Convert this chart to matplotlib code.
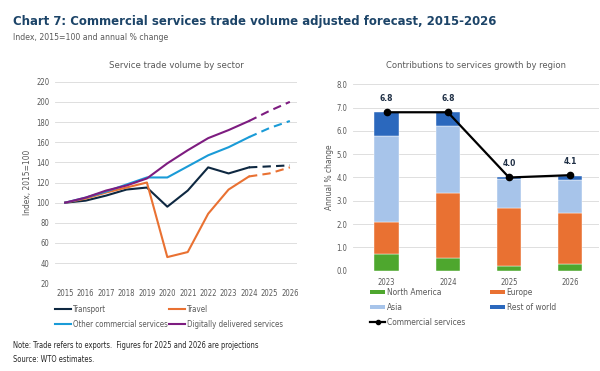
import numpy as np
import matplotlib
matplotlib.use("Agg")
import matplotlib.pyplot as plt
from matplotlib import font_manager
from matplotlib.lines import Line2D
from matplotlib.patches import Patch

# pick a narrow face if there is one, the reference uses a condensed sans
names = {f.name for f in font_manager.fontManager.ttflist}
stretches = {(f.name, f.stretch) for f in font_manager.fontManager.ttflist}
stretch = 'normal'
if 'Liberation Sans Narrow' in names:
    family = 'Liberation Sans Narrow'
elif 'DejaVu Sans Condensed' in names:
    family = 'DejaVu Sans Condensed'
elif ('DejaVu Sans', 'condensed') in stretches or ('DejaVu Sans', 'semi-condensed') in stretches:
    family = 'DejaVu Sans'
    stretch = 'condensed'
else:
    family = 'Liberation Sans'
plt.rcParams['font.family'] = [family, 'DejaVu Sans']
plt.rcParams['font.stretch'] = stretch

# Left panel: index, 2015=100
years = [2015, 2016, 2017, 2018, 2019, 2020, 2021, 2022, 2023, 2024, 2025, 2026]
transport = [100, 102, 107, 113, 115, 96, 112, 135, 129, 135, 136, 137]
travel = [100, 104, 110, 115, 120, 46, 51, 89, 113, 126, 129, 135]
other_commercial = [100, 105, 111, 118, 125, 125, 136, 147, 155, 165, 174, 181]
digital = [100, 105, 112, 117, 124, 139, 152, 164, 172, 181, 191, 200]
last_actual = 2024

# Right panel: contributions to growth, percentage points
bar_years = ['2023', '2024', '2025', '2026']
north_america = [0.70, 0.55, 0.20, 0.27]
europe = [1.37, 2.78, 2.50, 2.20]
asia = [3.72, 2.90, 1.25, 1.42]
rest_of_world = [1.01, 0.57, 0.05, 0.17]
commercial_services = [6.8, 6.8, 4.0, 4.1]

GREY = '#595959'
GRID = '#d9d9d9'

fig = plt.figure(figsize=(6, 3.71), dpi=100)
renderer = fig.canvas.get_renderer()


def fit_width(t, target_px):
    # shrink/grow a text so it spans about as wide as in the reference
    w = t.get_window_extent(renderer).width
    t.set_fontsize(t.get_fontsize() * target_px / w)


title = fig.text(13 / 600, 1 - 21 / 371,
                 'Chart 7: Commercial services trade volume adjusted forecast, 2015-2026',
                 fontsize=12, fontweight='bold', color='#1c4468', va='center')
fit_width(title, 483)
sub = fig.text(13 / 600, 1 - 38 / 371, 'Index, 2015=100 and annual % change',
               fontsize=7, color=GREY, va='center')
fit_width(sub, 156)


def style_axes(ax):
    for s in ax.spines.values():
        s.set_visible(False)
    ax.grid(axis='y', color=GRID, linewidth=0.6)
    ax.set_axisbelow(True)
    ax.tick_params(length=0, labelsize=5.5, labelcolor=GREY, pad=4)


# ---- left: service trade volume by sector
ax1 = fig.add_axes([55 / 600, 1 - 283.3 / 371, 242 / 600, 201.6 / 371])
style_axes(ax1)
series = [
    ('Transport', transport, '#0e2841'),
    ('Travel', travel, '#e97132'),
    ('Other commercial services', other_commercial, '#1a9bd7'),
    ('Digitally delivered services', digital, '#7d1c80'),
]
yrs = np.array(years)
k = years.index(last_actual)
for name, vals, col in series:
    vals = np.array(vals)
    ax1.plot(yrs[:k + 1], vals[:k + 1], color=col, lw=1.5, label=name)
    ax1.plot(yrs[k:], vals[k:], color=col, lw=1.5, ls=(0, (4, 2.5)))
ax1.set_xlim(2014.5, 2026.35)
ax1.set_ylim(20, 220)
ax1.set_yticks(range(20, 221, 20))
ax1.set_xticks(years)
ax1.set_ylabel('Index, 2015=100', fontsize=6, color=GREY, labelpad=3)
t1 = ax1.set_title('Service trade volume by sector', fontsize=7.5, color=GREY, pad=10)
fit_width(t1, 133)

h = [Line2D([], [], color=c, lw=1.5) for _, _, c in series]
lab = [n for n, _, _ in series]
order = [0, 2, 1, 3]
ax1.legend([h[i] for i in order], [lab[i] for i in order], ncol=2, frameon=False,
           fontsize=5.7, labelcolor=GREY, handlelength=2.0, handletextpad=0.3,
           columnspacing=0.15, labelspacing=0.7, borderpad=0, borderaxespad=0,
           loc='upper left', bbox_to_anchor=(55 / 600, 1 - 305 / 371),
           bbox_transform=fig.transFigure)

# ---- right: contributions by region
ax2 = fig.add_axes([353 / 600, 1 - 270.7 / 371, 246 / 600, 186.4 / 371])
style_axes(ax2)
x = np.arange(len(bar_years))
w = 0.4
stack = [
    ('North America', north_america, '#4ea72e'),
    ('Europe', europe, '#e97132'),
    ('Asia', asia, '#a7c4ea'),
    ('Rest of world', rest_of_world, '#2b68bd'),
]
bottom = np.zeros(len(x))
bar_handles = []
for name, vals, col in stack:
    ax2.bar(x, vals, w, bottom=bottom, color=col, edgecolor='white', linewidth=0.3)
    bottom += np.array(vals)
    bar_handles.append(Patch(facecolor=col, label=name))
ax2.plot(x, commercial_services, color='black', lw=1.6, marker='o', ms=4.5, zorder=5)
for xi, v in zip(x, commercial_services):
    ax2.annotate(f'{v:.1f}', (xi, v), xytext=(0, 8), textcoords='offset points',
                 ha='center', fontsize=6, fontweight='bold', color='#1f2f45')
ax2.set_xlim(-0.55, 3.47)
ax2.set_ylim(0, 8)
ax2.set_yticks(np.arange(0, 8.1, 1.0))
ax2.yaxis.set_major_formatter(plt.FormatStrFormatter('%.1f'))
ax2.set_xticks(x)
ax2.set_xticklabels(bar_years)
ax2.tick_params(axis='x', pad=5)
ax2.set_ylabel('Annual % change', fontsize=6, color=GREY, labelpad=2)
t2 = ax2.set_title('Contributions to services growth by region', fontsize=7.5, color=GREY, pad=12)
fit_width(t2, 180)

line_handle = Line2D([], [], color='black', lw=1.6, marker='o', ms=3)
hh = [bar_handles[0], bar_handles[2], line_handle, bar_handles[1], bar_handles[3]]
ll = ['North America', 'Asia', 'Commercial services', 'Europe', 'Rest of world']
ax2.legend(hh, ll, ncol=2, frameon=False, fontsize=6, labelcolor=GREY,
           handlelength=1.8, handleheight=0.5, handletextpad=0.2, columnspacing=3.0,
           labelspacing=0.7, borderpad=0, borderaxespad=0,
           loc='upper left', bbox_to_anchor=(370 / 600, 1 - 288 / 371),
           bbox_transform=fig.transFigure)

note = fig.text(12.7 / 600, 1 - 345.5 / 371,
                'Note: Trade refers to exports.  Figures for 2025 and 2026 are projections',
                fontsize=6, color='#262626', va='center')
fit_width(note, 247)
src = fig.text(12.7 / 600, 1 - 360 / 371, 'Source: WTO estimates.',
               fontsize=note.get_fontsize(), color='#262626', va='center')

fig.savefig('out.png', dpi=100, facecolor='white')
